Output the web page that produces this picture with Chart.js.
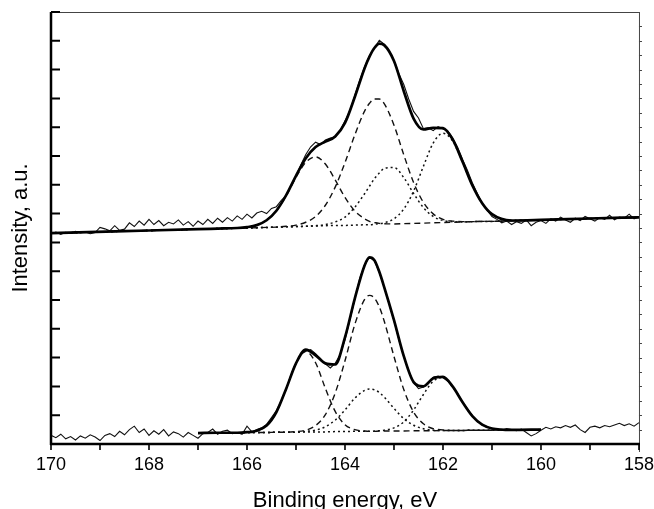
<!DOCTYPE html>
<html>
<head>
<meta charset="utf-8">
<script src="https://cdn.jsdelivr.net/npm/chart.js@4.4.1/dist/chart.umd.min.js"></script>
<style>
  html, body { margin: 0; padding: 0; background: #fff; }
  #wrap { width: 654px; height: 509px; }
</style>
</head>
<body>
<div id="wrap"><canvas id="xpsChart" width="654" height="509"></canvas></div>
<script>
// energy grid for the fitted curves (eV)
var fitEnergy = [170, 168.5, 167, 166.6, 166.2, 166.0, 165.8, 165.6, 165.4, 165.2, 165.0, 164.8, 164.6, 164.4, 164.2, 164.0,
  163.8, 163.6, 163.5, 163.4, 163.3, 163.2, 163.0, 162.8, 162.6, 162.4, 162.2, 162.0, 161.8, 161.6, 161.4, 161.2, 161.0,
  160.6, 160.0, 159.0, 158.0];

// upper spectrum - fit envelope and components
var topEnvelope = [7.32, 7.39, 7.46, 7.48, 7.50, 7.53, 7.60, 7.77, 8.10, 8.64, 9.31, 9.92, 10.31, 10.50, 10.68, 11.15,
  12.05, 13.05, 13.45, 13.75, 13.90, 13.85, 13.30, 12.25, 11.30, 10.92, 10.98, 10.97, 10.57, 9.80, 8.98, 8.36, 7.98,
  7.76, 7.78, 7.83, 7.87];
var topDash1 = [7.32, 7.39, 7.46, 7.48, 7.50, 7.53, 7.60, 7.77, 8.10, 8.62, 9.26, 9.78, 9.97, 9.72, 9.17, 8.56,
  8.09, 7.82, 7.73, 7.69, 7.66, 7.65, 7.64, 7.65, 7.66, 7.67, 7.68, 7.69, 7.70, 7.71, 7.72, 7.73, 7.73,
  7.75, 7.78, 7.83, 7.87];
var topDash2 = [7.32, 7.39, 7.46, 7.48, 7.49, 7.50, 7.51, 7.52, 7.53, 7.56, 7.60, 7.70, 7.90, 8.29, 8.92, 9.77,
  10.73, 11.56, 11.83, 11.98, 11.98, 11.82, 11.07, 10.04, 9.08, 8.39, 7.99, 7.80, 7.74, 7.72, 7.72, 7.73, 7.73,
  7.75, 7.78, 7.83, 7.87];
var topDot1 = [7.32, 7.39, 7.46, 7.48, 7.49, 7.50, 7.51, 7.52, 7.53, 7.54, 7.55, 7.56, 7.58, 7.62, 7.71, 7.88,
  8.22, 8.69, 8.95, 9.21, 9.41, 9.57, 9.60, 9.25, 8.70, 8.21, 7.90, 7.76, 7.72, 7.71, 7.72, 7.73, 7.73,
  7.75, 7.78, 7.83, 7.87];
var topDot2 = [7.32, 7.39, 7.46, 7.48, 7.49, 7.50, 7.51, 7.52, 7.53, 7.54, 7.55, 7.56, 7.57, 7.58, 7.59, 7.59,
  7.60, 7.61, 7.61, 7.63, 7.65, 7.68, 7.82, 8.16, 8.78, 9.64, 10.45, 10.79, 10.51, 9.79, 8.98, 8.36, 7.98,
  7.77, 7.78, 7.83, 7.87];

// lower spectrum - fit covers 167..160 eV only
var botEnvelope = [null, null, 0.38, 0.39, 0.39, 0.41, 0.46, 0.64, 1.11, 1.92, 2.80, 3.28, 3.08, 2.80, 2.76, 3.70,
  5.05, 6.20, 6.48, 6.38, 5.98, 5.45, 4.30, 3.05, 2.15, 2.00, 2.28, 2.33, 1.99, 1.45, 0.97, 0.67, 0.54,
  0.49, 0.50, null, null];
var botDash1 = [null, null, 0.38, 0.39, 0.39, 0.41, 0.46, 0.64, 1.11, 1.92, 2.81, 3.22, 2.82, 1.93, 1.13, 0.67,
  0.50, 0.45, 0.44, 0.44, 0.45, 0.45, 0.45, 0.45, 0.46, 0.46, 0.46, 0.47, 0.47, 0.47, 0.48, 0.48, 0.48,
  0.49, 0.50, null, null];
var botDash2 = [null, null, 0.38, 0.39, 0.39, 0.40, 0.40, 0.40, 0.41, 0.41, 0.43, 0.48, 0.64, 1.02, 1.77, 2.89,
  4.15, 5.02, 5.16, 5.07, 4.76, 4.27, 3.04, 1.89, 1.11, 0.70, 0.53, 0.49, 0.47, 0.47, 0.48, 0.48, 0.48,
  0.49, 0.50, null, null];
var botDot1 = [null, null, 0.38, 0.39, 0.39, 0.40, 0.40, 0.40, 0.41, 0.41, 0.41, 0.44, 0.48, 0.60, 0.83, 1.18,
  1.59, 1.86, 1.91, 1.88, 1.79, 1.63, 1.24, 0.88, 0.65, 0.53, 0.48, 0.47, 0.47, 0.47, 0.48, 0.48, 0.48,
  0.49, 0.50, null, null];
var botDot2 = [null, null, 0.38, 0.39, 0.39, 0.40, 0.40, 0.40, 0.41, 0.41, 0.41, 0.42, 0.42, 0.42, 0.43, 0.43,
  0.44, 0.44, 0.44, 0.45, 0.46, 0.48, 0.56, 0.77, 1.18, 1.72, 2.18, 2.31, 1.99, 1.45, 0.97, 0.67, 0.54,
  0.49, 0.50, null, null];

// measured spectra, 170 -> 158 eV in 0.1 eV steps
var topRaw = [7.30, 7.36, 7.28, 7.35, 7.31, 7.38, 7.33, 7.36, 7.30, 7.34,
  7.52, 7.47, 7.40, 7.58, 7.42, 7.46, 7.68, 7.55, 7.74, 7.60,
  7.80, 7.62, 7.76, 7.58, 7.70, 7.64, 7.78, 7.60, 7.72, 7.56,
  7.74, 7.62, 7.80, 7.66, 7.84, 7.70, 7.86, 7.74, 7.92, 7.80,
  7.98, 7.85, 8.02, 8.08, 8.00, 8.18, 8.24, 8.46, 8.62, 8.98,
  9.30, 9.70, 10.05, 10.32, 10.48, 10.40, 10.56, 10.62, 10.66, 10.88,
  11.22, 11.58, 12.10, 12.62, 13.10, 13.48, 13.75, 14.02, 13.88, 13.66,
  13.32, 12.86, 12.48, 11.98, 11.55, 11.32, 10.95, 10.98, 10.88, 11.02,
  10.94, 10.86, 10.62, 10.30, 9.88, 9.50, 9.06, 8.70, 8.34, 8.12,
  7.90, 7.80, 7.68, 7.74, 7.62, 7.72, 7.66, 7.78, 7.58, 7.70,
  7.76, 7.66, 7.82, 7.74, 7.88, 7.78, 7.70, 7.84, 7.76, 7.90,
  7.82, 7.74, 7.86, 7.80, 7.94, 7.78, 7.88, 7.84, 7.98, 7.82,
  7.90];
var botRaw = [0.30, 0.22, 0.34, 0.18, 0.26, 0.14, 0.28, 0.20, 0.32, 0.24,
  0.12, 0.30, 0.36, 0.26, 0.44, 0.32, 0.50, 0.62, 0.40, 0.52,
  0.30, 0.46, 0.34, 0.50, 0.28, 0.42, 0.36, 0.24, 0.40, 0.30,
  0.20, 0.36, 0.40, 0.52, 0.34, 0.44, 0.48, 0.36, 0.40, 0.34,
  0.62, 0.42, 0.50, 0.56, 0.68, 0.92, 1.16, 1.50, 1.92, 2.40,
  2.80, 3.12, 3.22, 3.28, 3.14, 2.96, 2.78, 2.64, 2.80, 3.10,
  3.62, 4.30, 5.02, 5.75, 6.22, 6.48, 6.36, 5.96, 5.44, 4.86,
  4.28, 3.62, 3.04, 2.54, 2.14, 1.92, 1.98, 2.10, 2.32, 2.36,
  2.30, 2.18, 1.98, 1.74, 1.46, 1.22, 0.98, 0.80, 0.66, 0.60,
  0.54, 0.52, 0.48, 0.54, 0.50, 0.46, 0.52, 0.40, 0.28, 0.36,
  0.48, 0.58, 0.52, 0.60, 0.56, 0.64, 0.58, 0.66, 0.50, 0.40,
  0.58, 0.62, 0.56, 0.64, 0.60, 0.66, 0.72, 0.64, 0.70, 0.62,
  0.74];

var xTickValues = [170, 168, 166, 164, 162, 160, 158];

function pairUp(xs, ys) {
    var out = [];
    for (var i = 0; i < xs.length; i++) {
        if (ys[i] !== null) out.push({ x: xs[i], y: ys[i] });
    }
    return out;
}

var rawEnergy = [];
for (var i = 0; i < topRaw.length; i++) {
    rawEnergy.push(Math.round((170 - i * 0.1) * 10) / 10);
}

function rawSet(ys) {
    return { data: pairUp(rawEnergy, ys), borderColor: '#111', borderWidth: 1.1, tension: 0, order: 3 };
}
function fitSet(ys) {
    return { data: pairUp(fitEnergy, ys), borderColor: '#000', borderWidth: 2.7, cubicInterpolationMode: 'monotone', order: 0 };
}
function dashSet(ys) {
    return { data: pairUp(fitEnergy, ys), borderColor: '#111', borderWidth: 1.4, borderDash: [6, 4], cubicInterpolationMode: 'monotone', order: 1 };
}
function dotSet(ys) {
    return { data: pairUp(fitEnergy, ys), borderColor: '#111', borderWidth: 1.5, borderDash: [2, 3], cubicInterpolationMode: 'monotone', order: 2 };
}

// frame + tick marks, drawn on the chart's own scales
var framePlugin = {
    id: 'frame',
    afterDraw: function (chart) {
        var ctx = chart.ctx;
        var a = chart.chartArea;
        var xs = chart.scales.x, ys = chart.scales.y;
        ctx.save();
        // thin top and right border
        ctx.strokeStyle = '#444';
        ctx.lineWidth = 1;
        ctx.beginPath();
        ctx.moveTo(a.left, a.top + 0.5); ctx.lineTo(a.right, a.top + 0.5);
        ctx.moveTo(a.right + 0.5, a.top); ctx.lineTo(a.right + 0.5, a.bottom + 8);
        ctx.stroke();
        // small ticks on the right side
        ctx.beginPath();
        for (var v = 0.5; v < 15; v += 0.5) {
            var yy = Math.round(ys.getPixelForValue(v)) + 0.5;
            ctx.moveTo(a.right, yy); ctx.lineTo(a.right + 3, yy);
        }
        ctx.stroke();
        // heavy left and bottom axes
        ctx.strokeStyle = '#000';
        ctx.lineWidth = 2.5;
        ctx.beginPath();
        ctx.moveTo(a.left, a.top); ctx.lineTo(a.left, a.bottom + 1);
        ctx.moveTo(a.left - 1, a.bottom); ctx.lineTo(a.right + 1, a.bottom);
        ctx.stroke();
        // left ticks point inward
        ctx.lineWidth = 2;
        ctx.beginPath();
        for (var t = 1; t <= 15; t++) {
            var py = ys.getPixelForValue(t);
            ctx.moveTo(a.left, py); ctx.lineTo(a.left + 9, py);
        }
        ctx.stroke();
        // bottom ticks point outward, every 1 eV
        ctx.lineWidth = 1.6;
        ctx.beginPath();
        for (var e = 158; e <= 170; e++) {
            var px = xs.getPixelForValue(e);
            ctx.moveTo(px, a.bottom); ctx.lineTo(px, a.bottom + 6);
        }
        ctx.stroke();
        ctx.restore();
    }
};

Chart.defaults.font.family = '"Liberation Sans", Arial, sans-serif';
Chart.defaults.color = '#000';

new Chart(document.getElementById('xpsChart'), {
    type: 'line',
    data: {
        datasets: [
            rawSet(topRaw), rawSet(botRaw),
            fitSet(topEnvelope), fitSet(botEnvelope),
            dashSet(topDash1), dashSet(topDash2), dotSet(topDot1), dotSet(topDot2),
            dashSet(botDash1), dashSet(botDash2), dotSet(botDot1), dotSet(botDot2)
        ]
    },
    options: {
        responsive: false,
        animation: false,
        events: [],
        elements: { point: { radius: 0 } },
        layout: { padding: { top: 12, right: 15, left: 0, bottom: 0 } },
        plugins: { legend: { display: false }, tooltip: { enabled: false } },
        scales: {
            x: {
                type: 'linear',
                reverse: true,
                min: 158,
                max: 170,
                // invisible tick marks only push the labels down; real ticks are drawn by the plugin
                grid: { display: true, drawOnChartArea: false, drawTicks: true, tickLength: 10, color: 'rgba(0,0,0,0)' },
                border: { display: false },
                afterBuildTicks: function (s) {
                    s.ticks = xTickValues.map(function (v) { return { value: v }; });
                },
                afterFit: function (s) { s.height = 65; },
                ticks: { font: { size: 18 }, padding: 0, maxRotation: 0, autoSkip: false },
                title: { display: true, text: 'Binding energy, eV', font: { size: 22, lineHeight: 1 }, padding: { top: 0, bottom: -3 } }
            },
            y: {
                min: 0,
                max: 15,
                grid: { display: false },
                border: { display: false },
                afterFit: function (s) { s.width = 51; },
                ticks: { display: false, stepSize: 1 },
                title: { display: true, text: 'Intensity, a.u.', font: { size: 22, lineHeight: 1 }, padding: { top: 10, bottom: 0 } }
            }
        }
    },
    plugins: [framePlugin]
});
</script>
</body>
</html>
